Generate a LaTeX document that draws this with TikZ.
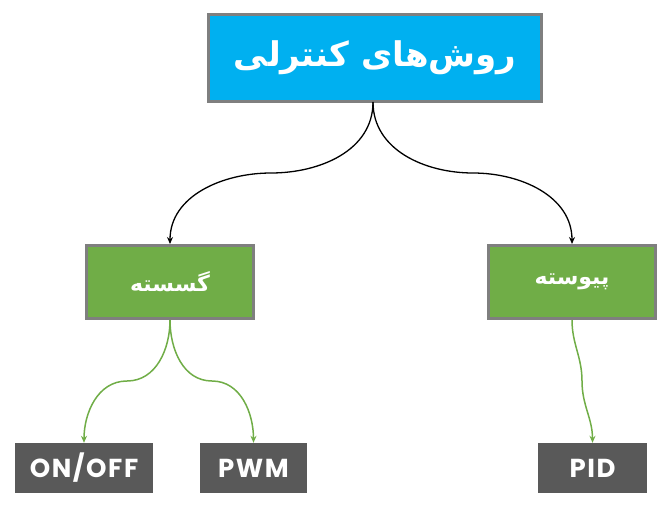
\documentclass[tikz,border=0pt]{standalone}
\usepackage{fontspec}
\TeXXeTstate=1
\newfontfamily\arabicfont[Script=Arabic]{DejaVu Sans}
\newfontfamily\latinfont[LetterSpace=6]{Poppins}
\usetikzlibrary{arrows.meta}
\definecolor{topblue}{HTML}{00B0F0}
\definecolor{boxgreen}{HTML}{70AD47}
\definecolor{boxgray}{HTML}{7F7F7F}
\definecolor{darkbox}{HTML}{595959}
\tikzset{
  topbox/.style={draw=boxgray, line width=3pt, fill=topblue, minimum width=333pt, minimum height=87pt, inner sep=0pt, text=white, font=\arabicfont\bfseries\fontsize{34}{38}\selectfont},
  greenbox/.style={draw=boxgray, line width=3pt, fill=boxgreen, minimum width=167pt, minimum height=73pt, inner sep=0pt, text=white, font=\arabicfont\bfseries\fontsize{22}{26}\selectfont},
  leafbox/.style={fill=darkbox, minimum height=50pt, inner sep=0pt, text=white, font=\latinfont\bfseries\fontsize{26}{30}\selectfont},
  blackarrow/.style={draw=black, line width=1.3pt, -{Stealth[length=7pt,width=6pt]}},
  greenarrow/.style={draw=boxgreen, line width=1.5pt, -{Stealth[length=7pt,width=6pt]}}
}
\begin{document}
\begin{tikzpicture}[x=1pt,y=-1pt]
\useasboundingbox (0,0) rectangle (671,506);
\node[topbox] (top) at (375,58) {\beginR روش‌های کنترلی\endR};
\node[greenbox] (disc) at (170,282) {\beginR گسسته\endR};
\node[greenbox] (cont) at (572,282) {\beginR پیوسته\endR};
\node[leafbox, minimum width=138pt] (onoff) at (84,468) {ON/OFF};
\node[leafbox, minimum width=107pt] (pwm) at (253.5,468) {PWM};
\node[leafbox, minimum width=109pt] (pid) at (592.5,468) {PID};
\coordinate (tm) at (373,102);
\coordinate (ml) at (271,173);
\coordinate (mr) at (473,173);
\coordinate (dm) at (170,320);
\coordinate (gl) at (127,381);
\coordinate (gr) at (212,381);
\coordinate (cm) at (572,320);
\coordinate (gp) at (582,381);
\draw[blackarrow] (tm) to[out=-90,in=0] (ml) to[out=180,in=90] (disc.north);
\draw[blackarrow] (tm) to[out=-90,in=180] (mr) to[out=0,in=90] (cont.north);
\draw[greenarrow] (dm) to[out=-90,in=0] (gl) to[out=180,in=90] (onoff.north);
\draw[greenarrow] (dm) to[out=-90,in=180] (gr) to[out=0,in=90] (pwm.north);
\draw[greenarrow] (cm) to[out=-90,in=90] (gp) to[out=-90,in=90] (pid.north);
\end{tikzpicture}
\end{document}
